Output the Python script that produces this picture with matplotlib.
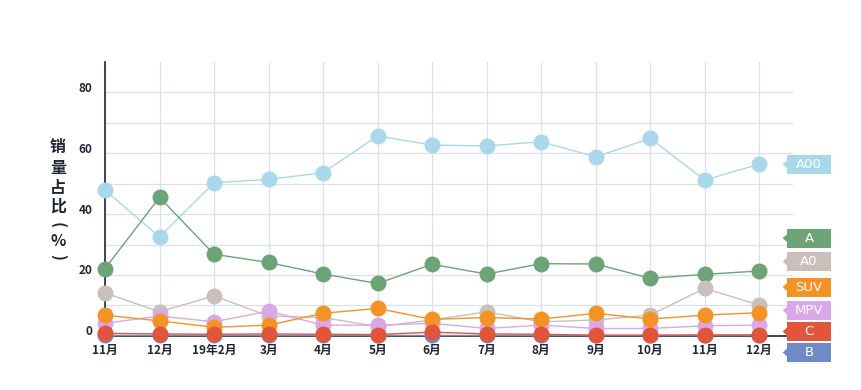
import matplotlib
matplotlib.use("Agg")
import matplotlib.pyplot as plt
import matplotlib.transforms as mtransforms
from matplotlib.patches import Rectangle, Polygon

plt.rcParams['font.family'] = ['Noto Sans CJK SC', 'DejaVu Sans']

# Data (share of sales, %)
months = ['11月', '12月', '19年2月', '3月', '4月', '5月', '6月', '7月', '8月', '9月', '10月', '11月', '12月']
a00 = [47.9, 32.5, 50.3, 51.4, 53.6, 65.7, 62.7, 62.4, 63.8, 58.8, 64.9, 51.2, 56.4]
a = [22.1, 45.5, 26.8, 24.1, 20.3, 17.2, 23.5, 20.3, 23.7, 23.6, 18.9, 20.2, 21.3]
a0 = [14.1, 7.9, 13.1, 6.5, 6.0, 3.0, 5.2, 7.9, 4.6, 5.2, 6.8, 15.6, 10.1]
suv = [6.8, 4.9, 2.8, 3.5, 7.4, 9.0, 5.4, 6.0, 5.5, 7.4, 5.5, 6.8, 7.6]
mpv = [4.1, 6.5, 4.6, 8.1, 3.5, 3.5, 4.1, 2.4, 3.5, 2.4, 2.4, 3.3, 3.5]
c = [0.8, 0.6, 0.5, 0.6, 0.5, 0.4, 1.2, 0.6, 0.5, 0.2, 0.2, 0.3, 0.3]
b = [0.1, 0.1, 0.1, 0.1, 0.1, 0.1, 0.1, 0.1, 0.1, 0.1, 0.1, 0.1, 0.1]

series = [
    # name, values, colour, zorder, tag y-position
    ('A00', a00, '#a9d8ea', 4, 56.4),
    ('A', a, '#6da477', 4, 32.1),
    ('A0', a0, '#cbbfbb', 5, 24.4),
    ('SUV', suv, '#f39325', 7, 16.0),
    ('MPV', mpv, '#daa8e8', 6, 8.3),
    ('C', c, '#e2553a', 8, 1.4),
    ('B', b, '#6f8bc6', 3, -5.5),
]

fig = plt.figure(figsize=(8.62, 3.9), dpi=100)
ax = fig.add_axes([0.1218, 0.139, 0.7982, 0.702])

x = list(range(len(months)))
for name, vals, col, z, _ in series:
    ax.plot(x, vals, color=col, lw=1.0, marker='o', markersize=11.5,
            markeredgewidth=0, zorder=z, clip_on=False)

ax.set_xlim(0, 12.62)
ax.set_ylim(0, 90)

# grid
ax.set_yticks(range(0, 90, 10))
ax.set_yticklabels(['0', '', '20', '', '40', '', '60', '', '80'])
ax.set_xticks(x)
ax.set_xticklabels(months)
ax.grid(True, color='#dde0e8', lw=0.9, zorder=0)
ax.set_axisbelow(True)

ax.tick_params(axis='both', length=0)
ax.tick_params(axis='y', pad=9, labelsize=8.5, labelcolor='#1f2633')
ax.tick_params(axis='x', pad=6, labelsize=8.5, labelcolor='#1f2633')
for lbl in ax.get_yticklabels():
    lbl.set_fontweight('bold')
    lbl.set_transform(lbl.get_transform() + mtransforms.ScaledTranslation(0, 4 / 72, fig.dpi_scale_trans))
for lbl in ax.get_xticklabels():
    lbl.set_fontweight('bold')

for side in ['top', 'right']:
    ax.spines[side].set_visible(False)
ax.spines['left'].set_color('#1f2633')
ax.spines['left'].set_linewidth(1.2)
ax.spines['bottom'].set_color('#1f2633')
ax.spines['bottom'].set_linewidth(1.2)
ax.spines['bottom'].set_bounds(0, 12.5)

# end tags
box_x, box_w, box_h = 12.51, 0.81, 6.2
for name, vals, col, z, ty in series:
    ax.add_patch(Rectangle((box_x, ty - box_h / 2), box_w, box_h, facecolor=col,
                           edgecolor='none', clip_on=False, zorder=10))
    ax.add_patch(Polygon([[box_x - 0.08, ty], [box_x, ty + 1.3], [box_x, ty - 1.3]],
                         closed=True, facecolor=col, edgecolor='none', clip_on=False, zorder=10))
    ax.text(box_x + box_w / 2, ty, name, color='white', fontsize=9.5,
            family=['DejaVu Sans'], ha='center', va='center', zorder=11, clip_on=False)

# vertical y label, one character per line; brackets turned sideways
label_chars = ['销', '量', '占', '比', '(', '%', ')']
label_rot = [0, 0, 0, 0, -90, 0, -90]
label_y = [147, 168, 188, 207, 225, 241, 257]
for ch, rot, py in zip(label_chars, label_rot, label_y):
    fig.text(58 / 862, 1 - py / 390, ch, fontsize=11.5, fontweight='bold', rotation=rot,
             color='#1f2633', ha='center', va='center')

fig.savefig('out.png', dpi=100)
